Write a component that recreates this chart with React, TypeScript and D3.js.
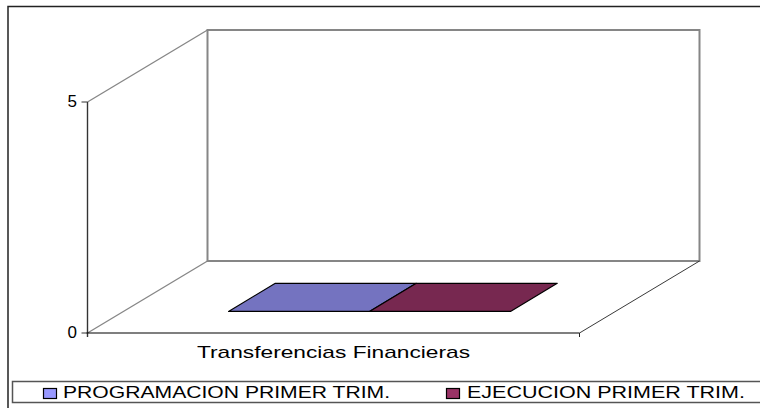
import React from 'react';
import * as d3 from 'd3';

const categories = ['Transferencias Financieras'];
const seriesNames = ['PROGRAMACION PRIMER TRIM.', 'EJECUCION PRIMER TRIM.'];
const seriesValues = [0, 0];
const seriesTop = ['#7473c0', '#772850'];
const seriesSwatch = ['#9999ff', '#993366'];
const legendX = [43, 446];
const legendTextX = [63, 467];
const legendTextWidth = [327, 278];
const yTicks = [0, 5];

const W = 760;
const H = 408;
const x0 = 87.5;
const x1 = 579.5;
const y0 = 333;
const y5 = 102;
const depthX = 120;
const depthY = -72;

const xScale = d3.scaleBand().domain(categories).range([x0, x1]);
const serieScale = d3.scaleBand().domain(seriesNames).range([0, xScale.bandwidth()]).paddingOuter(0.745).paddingInner(0);
const yScale = d3.scaleLinear().domain([0, 5]).range([y0, y5]);
// 0 = front of the floor, 1 = back wall
const zX = d3.scaleLinear().domain([0, 1]).range([0, depthX]);
const zY = d3.scaleLinear().domain([0, 1]).range([0, depthY]);
const barZ = [0.3, 0.69];

const project = (x: number, y: number, z: number): [number, number] => [x + zX(z), y + zY(z)];
const poly = (pts: [number, number][]) => d3.line()(pts) + 'Z';
const seg = (a: [number, number], b: [number, number]) => d3.line()([a, b]) as string;

export default function App() {
  const sans = '"Liberation Sans", Arial, sans-serif';
  const wall = poly([project(x0, y0, 1), project(x1, y0, 1), project(x1, y5, 1), project(x0, y5, 1)]);
  return (
    <svg width={W} height={H} style={{ position: 'absolute', left: 0, top: 0, background: '#fff' }} fontFamily={sans}>
      {/* outer frame runs off the right and bottom of the picture */}
      <rect x={8} y={6.5} width={W + 20} height={H + 20} fill="#fff" stroke="#222" strokeWidth={1.5} />

      <path d={wall} fill="#fff" stroke="#868686" strokeWidth={2} />
      <path d={seg([x0, y5], project(x0, y5, 1))} stroke="#868686" strokeWidth={1.3} fill="none" />
      <path d={seg([x0, y0], project(x0, y0, 1))} stroke="#868686" strokeWidth={1.3} fill="none" />
      <path d={seg([x1, y0], project(x1, y0, 1))} stroke="#222" strokeWidth={0.9} fill="none" />

      {seriesNames.map((s, i) => {
        const left = xScale(categories[0])! + serieScale(s)!;
        const right = left + serieScale.bandwidth();
        const y = yScale(seriesValues[i]);
        return (
          <path
            key={s}
            d={poly([project(left, y, barZ[0]), project(right, y, barZ[0]), project(right, y, barZ[1]), project(left, y, barZ[1])])}
            fill={seriesTop[i]}
            stroke="#000"
            strokeWidth={1.2}
            strokeLinejoin="round"
          />
        );
      })}

      <line x1={x0} x2={x0} y1={y5} y2={y0 + 4} stroke="#333" strokeWidth={1.4} />
      <line x1={x0 - 1} x2={x1} y1={y0} y2={y0} stroke="#000" strokeWidth={1.2} />
      <line x1={x1} x2={x1} y1={y0} y2={y0 + 4} stroke="#222" />
      {yTicks.map((t) => (
        <g key={t}>
          <line x1={x0 - 6} x2={x0} y1={yScale(t)} y2={yScale(t)} stroke="#333" />
          <text x={67.5} y={yScale(t) + 5} fontSize={17} fill="#000">{t}</text>
        </g>
      ))}
      <text x={197} y={358} fontSize={17} fill="#000" textLength={273} lengthAdjust="spacingAndGlyphs">{categories[0]}</text>

      <rect x={12.5} y={381.5} width={W} height={21} fill="#fff" stroke="#555" strokeWidth={1.5} />
      {seriesNames.map((s, i) => (
        <g key={s}>
          <rect x={legendX[i] + 0.5} y={388.5} width={13} height={10} fill={seriesSwatch[i]} stroke="#000" strokeWidth={1.2} />
          <text x={legendTextX[i]} y={398} fontSize={17} fill="#000" textLength={legendTextWidth[i]} lengthAdjust="spacingAndGlyphs">{s}</text>
        </g>
      ))}
    </svg>
  );
}
